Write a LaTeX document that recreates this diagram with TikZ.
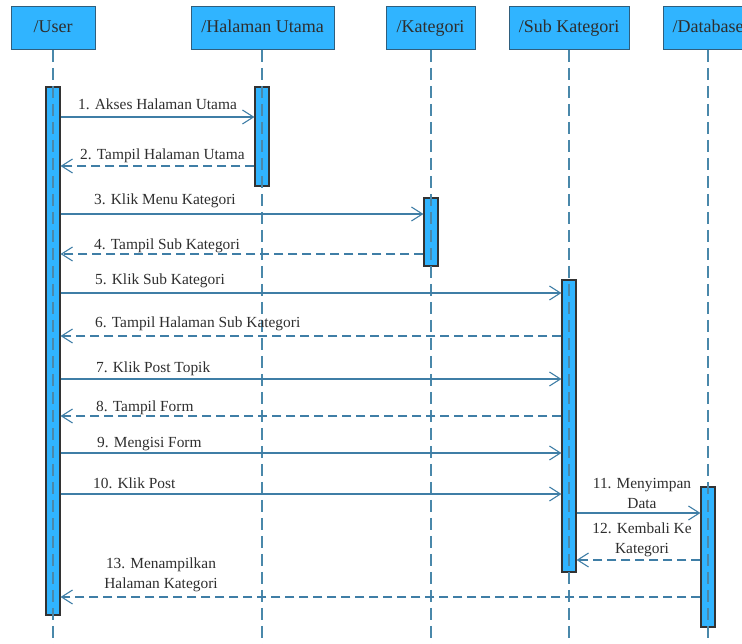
\documentclass[tikz,border=0pt]{standalone}
\usepackage{fontspec}
\setmainfont{Liberation Serif}
\usetikzlibrary{arrows.meta}
\definecolor{boxfill}{HTML}{30B4FF}
\definecolor{linec}{HTML}{3F7EA6}
\definecolor{lifec}{HTML}{4A88AA}
\definecolor{txt}{HTML}{2E2E2E}
\begin{document}
\begin{tikzpicture}[x=1pt,y=-1pt,
  head/.style={draw=linec!75!black, fill=boxfill, minimum height=43pt, inner sep=0pt, line width=0.9pt,
    text height=13pt, text depth=4pt, font=\fontsize{18}{21}\selectfont, text=txt},
  act/.style={draw=black!80, fill=boxfill, minimum width=14pt, inner sep=0pt, line width=1.1pt},
  life/.style={draw=lifec, dash pattern=on 12pt off 6pt, line width=1.1pt},
  msg/.style={draw=linec, line width=1.1pt, -{Straight Barb[length=11pt,width=14pt,line width=1.1pt]}},
  ret/.style={msg, dash pattern=on 9pt off 5pt},
  lbl/.style={font=\fontsize{15.4}{19.5}\selectfont, text=txt, inner sep=0pt},
  mlbl/.style={lbl, align=center}]
\useasboundingbox (0,0) rectangle (742,644);
\clip (0,0) rectangle (742,644);
% heads
\node[head, minimum width=84pt]  (hu) at (53,28)    {/User};
\node[head, minimum width=143pt] (hh) at (262.5,28) {/Halaman Utama};
\node[head, minimum width=89pt]  (hk) at (430.5,28) {/Kategori};
\node[head, minimum width=120pt] (hs) at (569,28)   {/Sub Kategori};
\node[head, minimum width=90pt]  (hd) at (708,28)   {/Database};
% lifeline ends
\coordinate (eu) at (53,644);
\coordinate (eh) at (262,644);
\coordinate (ek) at (431,644);
\coordinate (es) at (569,644);
\coordinate (ed) at (708,644);
% activation bars
\node[act, minimum height=528pt] (au) at (53,351)   {};
\node[act, minimum height=99pt]  (ah) at (262,136.5) {};
\node[act, minimum height=68pt]  (ak) at (431,232)  {};
\node[act, minimum height=292pt] (as) at (569,426)  {};
\node[act, minimum height=140pt] (ad) at (708,557)  {};
% lifelines
\draw[life] (hu.south) -- (eu);
\draw[life] (hh.south -| eh) -- (eh);
\draw[life] (hk.south -| ek) -- (ek);
\draw[life] (hs.south) -- (es);
\draw[life] (hd.south) -- (ed);
% messages
\draw[msg] (au.east |- 0,117) -- (ah.west |- 0,117);
\node[lbl, anchor=base west] (l1) at (78,110) {1. Akses Halaman Utama};
\draw[ret] (ah.west |- 0,166) -- (au.east |- 0,166);
\node[lbl, anchor=base west] (l2) at (80,160) {2. Tampil Halaman Utama};
\draw[msg] (au.east |- 0,214) -- (ak.west |- 0,214);
\node[lbl, anchor=base west] (l3) at (94,205) {3. Klik Menu Kategori};
\draw[ret] (ak.west |- 0,254) -- (au.east |- 0,254);
\node[lbl, anchor=base west] (l4) at (94,250) {4. Tampil Sub Kategori};
\draw[msg] (au.east |- 0,293) -- (as.west |- 0,293);
\node[lbl, anchor=base west] (l5) at (95,285) {5. Klik Sub Kategori};
\draw[ret] (as.west |- 0,336) -- (au.east |- 0,336);
\node[lbl, anchor=base west] (l6) at (95,328) {6. Tampil Halaman Sub Kategori};
\draw[msg] (au.east |- 0,379) -- (as.west |- 0,379);
\node[lbl, anchor=base west] (l7) at (96,373) {7. Klik Post Topik};
\draw[ret] (as.west |- 0,416) -- (au.east |- 0,416);
\node[lbl, anchor=base west] (l8) at (96,411) {8. Tampil Form};
\draw[msg] (au.east |- 0,453) -- (as.west |- 0,453);
\node[lbl, anchor=base west] (l9) at (97,447) {9. Mengisi Form};
\draw[msg] (au.east |- 0,494) -- (as.west |- 0,494);
\node[lbl, anchor=base west] (l10) at (93,488) {10. Klik Post};
\draw[msg] (as.east |- 0,513) -- (ad.west |- 0,513);
\node[mlbl, anchor=base] (l11) at (642,508) {11. Menyimpan\\Data};
\draw[ret] (ad.west |- 0,560) -- (as.east |- 0,560);
\node[mlbl, anchor=base] (l12) at (642,553) {12. Kembali Ke\\Kategori};
\draw[ret] (ad.west |- 0,597) -- (au.east |- 0,597);
\node[mlbl, anchor=base] (l13) at (161,588) {13. Menampilkan\\Halaman Kategori};
\end{tikzpicture}
\end{document}
